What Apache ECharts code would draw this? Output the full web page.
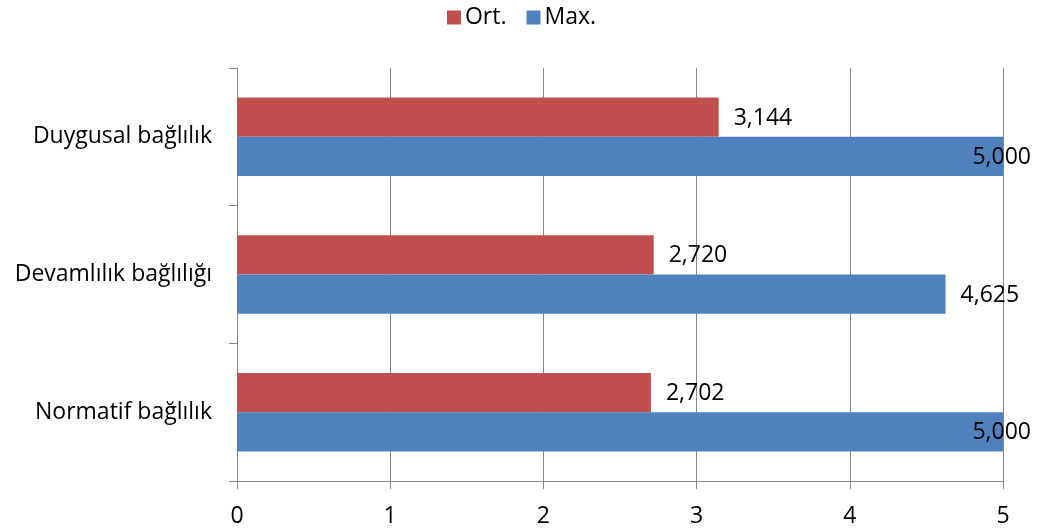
<!DOCTYPE html>
<html>
<head>
<meta charset="utf-8">
<script src="https://cdn.jsdelivr.net/npm/echarts@6/dist/echarts.min.js"></script>
<style>
  html, body { margin: 0; padding: 0; background: #ffffff; }
  #chart { width: 1043px; height: 532px; }
</style>
</head>
<body>
<div id="chart"></div>
<script>
// Bağlılık boyutları: ortalama ve maksimum puanlar
const categories = ['Duygusal bağlılık', 'Devamlılık bağlılığı', 'Normatif bağlılık'];
const ortValues = [3.144, 2.720, 2.702];
const maxValues = [5.000, 4.625, 5.000];
const xTicks = [0, 1, 2, 3, 4, 5];

const FONT = '"Open Sans", "Noto Sans", sans-serif';
const FONT_SIZE = 23;
const AXIS_GRAY = '#868686';

function fmt(v) {
  return v.toFixed(3).replace('.', ',');
}

// Values that sit on the plot edge get their label pulled back over the bar end
function barData(values) {
  return values.map(function (v) {
    if (v >= xTicks[xTicks.length - 1]) {
      return { value: v, label: { position: 'insideRight', distance: 0, offset: [28, 1] } };
    }
    return v;
  });
}

const chart = echarts.init(document.getElementById('chart'), null, { renderer: 'canvas' });

const labelStyle = {
  show: true,
  position: 'right',
  distance: 15,
  offset: [0, 1],
  fontSize: FONT_SIZE,
  color: '#000000',
  fontFamily: FONT,
  formatter: function (p) { return fmt(p.value); }
};

chart.setOption({
  animation: false,
  backgroundColor: '#ffffff',
  textStyle: { fontFamily: FONT },
  legend: {
    top: 1,
    left: 'center',
    itemWidth: 14,
    itemHeight: 14,
    itemGap: 20,
    icon: 'rect',
    textStyle: { fontSize: FONT_SIZE, color: '#000000', fontFamily: FONT, padding: [0, 0, 0, -1] },
    data: ['Ort.', 'Max.']
  },
  grid: { left: 237, right: 40, top: 68, bottom: 51, containLabel: false },
  xAxis: {
    type: 'value',
    min: xTicks[0],
    max: xTicks[xTicks.length - 1],
    interval: 1,
    axisLine: { show: true, lineStyle: { color: AXIS_GRAY, width: 1 } },
    axisTick: { show: true, length: 8, lineStyle: { color: AXIS_GRAY } },
    splitLine: { show: true, lineStyle: { color: AXIS_GRAY, width: 1 } },
    axisLabel: { fontSize: FONT_SIZE, color: '#000000', margin: 24, fontFamily: FONT }
  },
  yAxis: {
    type: 'category',
    inverse: true,
    data: categories,
    axisLine: { show: true, lineStyle: { color: AXIS_GRAY, width: 1 } },
    axisTick: { show: true, length: 8, alignWithLabel: false, lineStyle: { color: AXIS_GRAY } },
    axisLabel: { fontSize: FONT_SIZE, color: '#000000', margin: 25, fontFamily: FONT }
  },
  series: [
    {
      name: 'Ort.',
      type: 'bar',
      data: barData(ortValues),
      itemStyle: { color: '#C0504D' },
      barGap: '0%',
      barCategoryGap: '43%',
      label: labelStyle
    },
    {
      name: 'Max.',
      type: 'bar',
      data: barData(maxValues),
      itemStyle: { color: '#4F81BD' },
      barGap: '0%',
      barCategoryGap: '43%',
      label: labelStyle
    }
  ]
});
</script>
</body>
</html>
